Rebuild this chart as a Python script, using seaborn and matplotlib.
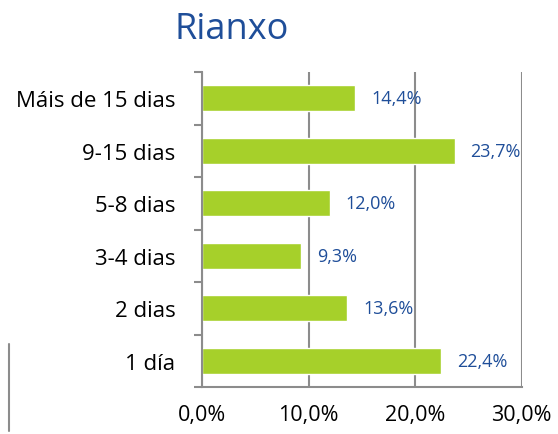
import numpy as np
import matplotlib
matplotlib.use('Agg')
import matplotlib.pyplot as plt
import seaborn as sns
from matplotlib.lines import Line2D

# Chart data
categories = ['Máis de 15 dias', '9-15 dias', '5-8 dias', '3-4 dias', '2 dias', '1 día']
values = [14.4, 23.7, 12.0, 9.3, 13.6, 22.4]
value_labels = ['14,4%', '23,7%', '12,0%', '9,3%', '13,6%', '22,4%']
x_ticks = [0, 10, 20, 30]
x_tick_labels = ['0,0%', '10,0%', '20,0%', '30,0%']

sns.set_style('white')
plt.rcParams['font.family'] = ['Open Sans', 'DejaVu Sans']

bar_color = '#a6d02a'
text_blue = '#1f4e99'
axis_gray = '#8c8c8c'

fig = plt.figure(figsize=(5.58, 4.35), dpi=100)
ax = fig.add_axes([0.362, 0.108, 0.573, 0.724])

sns.barplot(x=values, y=categories, color=bar_color, width=0.5,
            saturation=1, ax=ax, orient='h')

for i, (v, lab) in enumerate(zip(values, value_labels)):
    ax.text(v + 1.5, i, lab, va='center', ha='left', color=text_blue, fontsize=13)

ax.set_xlim(0, 30)
ax.set_ylim(5.5, -0.5)
ax.set_xticks(x_ticks)
ax.set_xticklabels(x_tick_labels, fontsize=15.5, color='black')
ax.set_yticks(range(len(categories)))
ax.set_yticklabels(categories, fontsize=16, color='black')
ax.tick_params(axis='y', length=0, pad=19)
ax.tick_params(axis='x', length=5, color=axis_gray, width=1.5, pad=7)
ax.set_yticks(np.arange(-0.5, len(categories), 1), minor=True)
ax.tick_params(axis='y', which='minor', length=6, color=axis_gray, width=1.5, left=True)
ax.set_xlabel('')
ax.set_ylabel('')

ax.grid(axis='x', color=axis_gray, linewidth=1.5)
ax.set_axisbelow(True)
for side in ['top', 'right']:
    ax.spines[side].set_visible(False)
for side in ['left', 'bottom']:
    ax.spines[side].set_color(axis_gray)
    ax.spines[side].set_linewidth(1.5)

fig.text(0.416, 0.932, 'Rianxo', ha='center', va='center', color=text_blue, fontsize=26)

# stray vertical line at the lower left edge
fig.add_artist(Line2D([0.017, 0.017], [0.007, 0.207], color=axis_gray, linewidth=1.5,
                      transform=fig.transFigure))

plt.savefig('out.png', dpi=100)
